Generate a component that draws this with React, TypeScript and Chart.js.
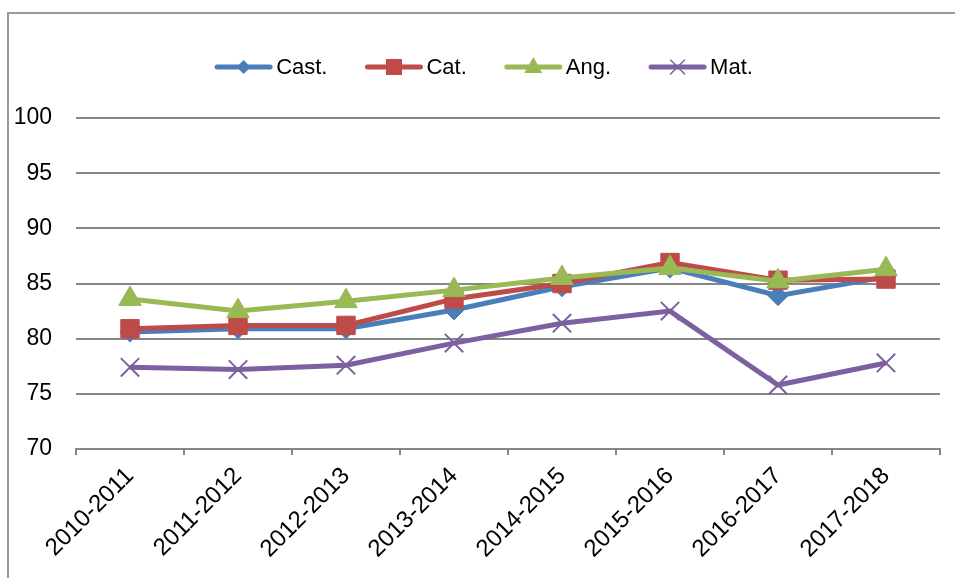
import React, { useEffect, useRef } from 'react';
import { Chart, registerables } from 'chart.js';

Chart.register(...registerables);

const categories = ['2010-2011', '2011-2012', '2012-2013', '2013-2014', '2014-2015', '2015-2016', '2016-2017', '2017-2018'];
const castValues = [80.6, 80.9, 80.9, 82.6, 84.7, 86.4, 83.9, 85.6];
const catValues = [80.9, 81.2, 81.2, 83.6, 85.0, 86.9, 85.3, 85.4];
const angValues = [83.6, 82.5, 83.4, 84.4, 85.5, 86.4, 85.2, 86.3];
const matValues = [77.4, 77.2, 77.6, 79.6, 81.4, 82.5, 75.8, 77.8];
const seriesNames = ['Cast.', 'Cat.', 'Ang.', 'Mat.'];
const yMin = 70;
const yMax = 100;
const yStep = 5;

const FONT = '"Liberation Sans", Arial, sans-serif';
const COLORS = ['#4A7EBB', '#BE4B48', '#98B954', '#7D60A0'];
const STYLES = ['diamond', 'square', 'triangle', 'cross'];

function drawMarker(ctx: CanvasRenderingContext2D, style: string, x: number, y: number, s: number, color: string) {
  ctx.save();
  ctx.fillStyle = color;
  ctx.strokeStyle = color;
  ctx.beginPath();
  if (style === 'diamond') {
    ctx.moveTo(x, y - s);
    ctx.lineTo(x + s, y);
    ctx.lineTo(x, y + s);
    ctx.lineTo(x - s, y);
    ctx.closePath();
    ctx.fill();
  } else if (style === 'square') {
    ctx.rect(x - s, y - s, 2 * s, 2 * s);
    ctx.fill();
  } else if (style === 'triangle') {
    ctx.moveTo(x, y - s);
    ctx.lineTo(x + s * 0.9, y + s * 0.6);
    ctx.lineTo(x - s * 0.9, y + s * 0.6);
    ctx.closePath();
    ctx.fill();
  } else {
    ctx.lineWidth = 1.5;
    ctx.moveTo(x - s, y - s);
    ctx.lineTo(x + s, y + s);
    ctx.moveTo(x + s, y - s);
    ctx.lineTo(x - s, y + s);
    ctx.stroke();
  }
  ctx.restore();
}

const legendPlugin = {
  id: 'customLegend',
  afterDraw(chart: any) {
    const ctx: CanvasRenderingContext2D = chart.ctx;
    ctx.save();
    ctx.font = `22px ${FONT}`;
    const lineLen = 57;
    const gapText = 4;
    const gapItem = 38;
    const widths = seriesNames.map((n) => ctx.measureText(n).width);
    let total = 0;
    widths.forEach((w, i) => {
      total += lineLen + gapText + w + (i < widths.length - 1 ? gapItem : 0);
    });
    let x = 484 - total / 2;
    const y = 67;
    const sizes = [7, 8, 10, 7];
    seriesNames.forEach((name, i) => {
      ctx.strokeStyle = COLORS[i];
      ctx.lineWidth = 5;
      ctx.lineCap = 'round';
      ctx.beginPath();
      ctx.moveTo(x + 2, y);
      ctx.lineTo(x + lineLen - 2, y);
      ctx.stroke();
      drawMarker(ctx, STYLES[i], x + lineLen / 2, y, sizes[i], COLORS[i]);
      ctx.fillStyle = '#000';
      ctx.textAlign = 'left';
      ctx.textBaseline = 'middle';
      ctx.fillText(name, x + lineLen + gapText, y + 1);
      x += lineLen + gapText + widths[i] + gapItem;
    });
    ctx.restore();
  },
};

export default function App() {
  const canvasRef = useRef<HTMLCanvasElement | null>(null);

  useEffect(() => {
    const canvas = canvasRef.current;
    if (!canvas) return;
    const values = [castValues, catValues, angValues, matValues];
    const pointStyles = ['rectRot', 'rect', 'triangle', 'crossRot'];
    const radii = [10, 13, 13, 13];
    const chart = new Chart(canvas, {
      type: 'line',
      data: {
        labels: categories,
        datasets: seriesNames.map((name, i) => ({
          label: name,
          data: values[i],
          borderColor: COLORS[i],
          backgroundColor: COLORS[i],
          borderWidth: 5,
          tension: 0,
          pointStyle: pointStyles[i],
          pointRadius: radii[i],
          pointBackgroundColor: COLORS[i],
          pointBorderColor: COLORS[i],
          pointBorderWidth: i === 3 ? 2 : 1,
          order: 4 - i,
          clip: false as any,
        })),
      },
      options: {
        animation: false,
        responsive: false,
        maintainAspectRatio: false,
        devicePixelRatio: 1,
        layout: { padding: { top: 118, left: 0, right: 9, bottom: 0 } },
        plugins: {
          legend: { display: false },
          tooltip: { enabled: false },
          title: { display: false },
        },
        scales: {
          x: {
            type: 'category',
            offset: true,
            grid: {
              display: true,
              drawOnChartArea: false,
              drawTicks: true,
              tickLength: 6,
              offset: true,
              color: '#868686',
              lineWidth: 2,
            },
            border: { display: true, color: '#868686', width: 2 },
            ticks: {
              autoSkip: false,
              maxRotation: 45,
              minRotation: 45,
              padding: 7,
              color: '#000',
              font: { family: FONT, size: 24 },
            },
            afterFit: (scale: any) => {
              scale.height = 129;
              scale.paddingLeft = 0;
              scale.paddingRight = 0;
            },
          },
          y: {
            min: yMin,
            max: yMax,
            grid: {
              color: '#868686',
              lineWidth: 2,
              drawTicks: false,
            },
            border: { display: false },
            ticks: {
              stepSize: yStep,
              padding: 24,
              color: '#000',
              font: { family: FONT, size: 23 },
            },
            afterFit: (scale: any) => {
              scale.width = 76;
              scale.paddingTop = 0;
              scale.paddingBottom = 0;
            },
          },
        },
      },
      plugins: [legendPlugin],
    });
    return () => chart.destroy();
  }, []);

  return (
    <div style={{ position: 'absolute', left: 0, top: 0, width: 955, height: 578, overflow: 'hidden', background: '#fff' }}>
      <div
        style={{
          position: 'absolute',
          left: 7,
          top: 12,
          width: 2000,
          height: 2000,
          borderLeft: '2px solid #9a9a9a',
          borderTop: '2px solid #9a9a9a',
        }}
      />
      <canvas ref={canvasRef} width={955} height={578} style={{ position: 'absolute', left: 0, top: 0 }} />
    </div>
  );
}
